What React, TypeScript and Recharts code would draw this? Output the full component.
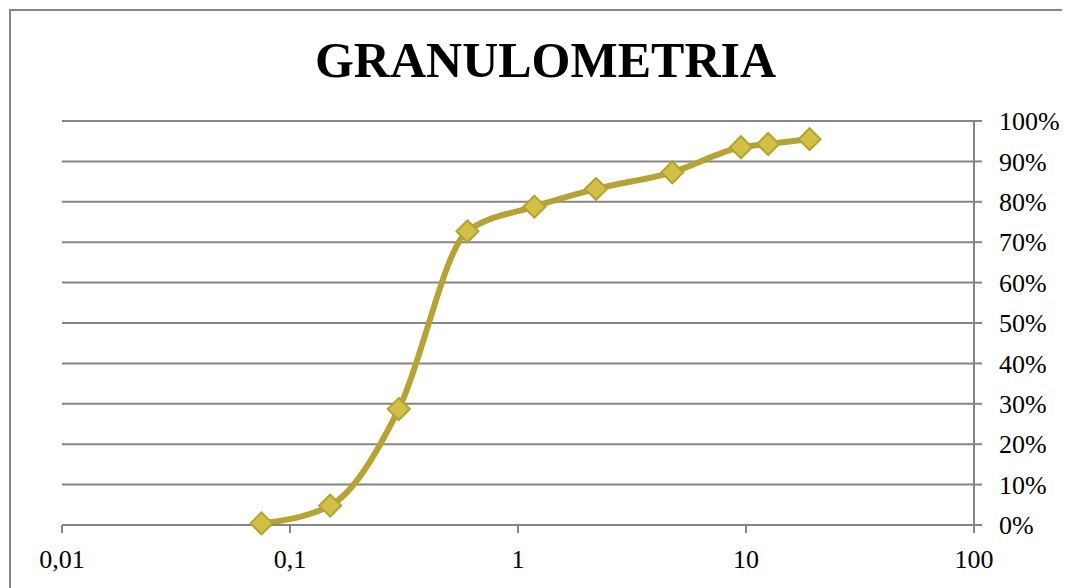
import React from 'react';
import { LineChart, Line, XAxis, YAxis, CartesianGrid } from 'recharts';

const title = 'GRANULOMETRIA';
const sieveSizes = [0.075, 0.15, 0.3, 0.6, 1.18, 2.2, 4.75, 9.5, 12.5, 19];
const passingPct = [0.4, 4.8, 28.7, 72.7, 78.8, 83.2, 87.3, 93.5, 94.3, 95.5];
const xTicks = [0.01, 0.1, 1, 10, 100];
const yTicks = [0, 10, 20, 30, 40, 50, 60, 70, 80, 90, 100];

const data = sieveSizes.map((s, i) => ({ size: s, pass: passingPct[i] }));

const FONT = "'Liberation Serif', 'Times New Roman', serif";
const GRID = '#868686';

const Diamond = (props: any) => {
  const { cx, cy } = props;
  if (cx == null || cy == null) return null;
  const r = 11;
  return (
    <polygon
      key={`d-${cx}-${cy}`}
      points={`${cx},${cy - r} ${cx + r},${cy} ${cx},${cy + r} ${cx - r},${cy}`}
      fill="#D2BF45"
      stroke="#B3A132"
      strokeWidth={2}
    />
  );
};

export default function App() {
  return (
    <div
      style={{
        position: 'relative',
        width: 1061,
        height: 579,
        margin: '1px 0 0 1px',
        borderTop: `2px solid ${GRID}`,
        borderLeft: `2px solid ${GRID}`,
        boxSizing: 'border-box',
        overflow: 'hidden',
        background: '#fff',
      }}
    >
      <div
        style={{
          position: 'absolute',
          left: 0,
          top: 24,
          width: 1069,
          textAlign: 'center',
          fontFamily: FONT,
          fontWeight: 'bold',
          fontSize: 50,
          lineHeight: '50px',
          color: '#000',
        }}
      >
        {title}
      </div>
      <LineChart
        width={1059}
        height={577}
        data={data}
        margin={{ top: 110, right: 10, bottom: 23, left: 51 }}
      >
        <CartesianGrid vertical={false} stroke={GRID} strokeWidth={2} />
        <XAxis
          dataKey="size"
          type="number"
          scale="log"
          domain={[0.01, 100]}
          ticks={xTicks}
          allowDataOverflow
          height={40}
          tickSize={8}
          tickMargin={17}
          stroke={GRID}
          strokeWidth={2}
          tick={{ fill: '#000', fontSize: 26, fontFamily: FONT }}
          tickFormatter={(v: number) => String(v).replace('.', ',')}
          interval={0}
        />
        <YAxis
          orientation="right"
          type="number"
          domain={[0, 100]}
          ticks={yTicks}
          width={86}
          tickSize={8}
          tickMargin={17}
          stroke={GRID}
          strokeWidth={2}
          tick={{ fill: '#000', fontSize: 26, fontFamily: FONT }}
          tickFormatter={(v: number) => `${v}%`}
          interval={0}
        />
        <Line
          type="monotone"
          dataKey="pass"
          stroke="#B5A333"
          strokeWidth={6}
          dot={<Diamond />}
          activeDot={false}
          isAnimationActive={false}
        />
      </LineChart>
    </div>
  );
}
